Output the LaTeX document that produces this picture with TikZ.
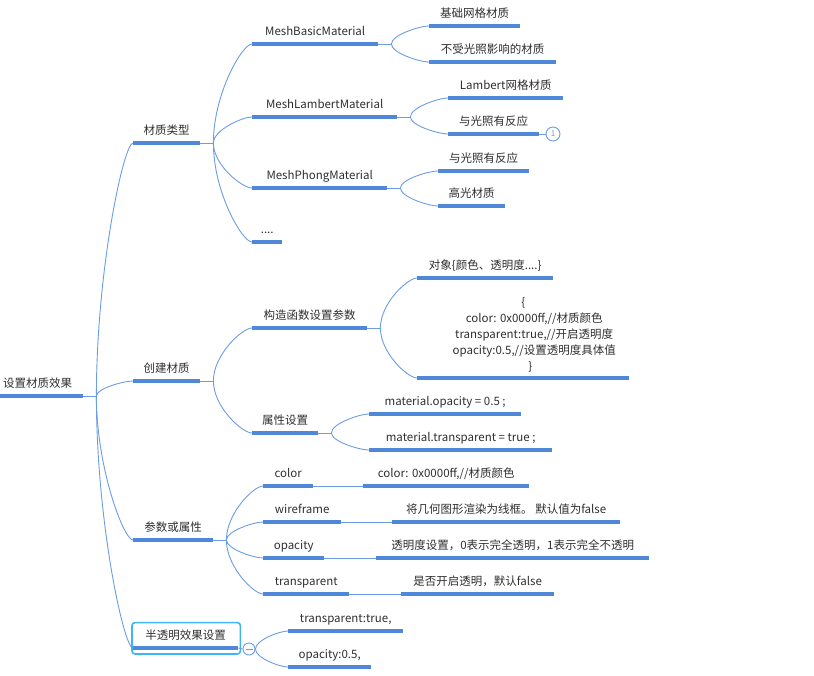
\documentclass[tikz,border=0pt]{standalone}
\usepackage{fontspec}
\setmainfont{Noto Sans CJK SC}
\usetikzlibrary{calc}
\definecolor{barblue}{HTML}{4F88D8}
\definecolor{linkblue}{HTML}{6A9DE3}
\definecolor{selcyan}{HTML}{3DB5F5}
\definecolor{txt}{HTML}{2E2E2E}

\begin{document}
\begin{tikzpicture}[
        x=1pt, y=-1pt,
        topic/.style={anchor=south west, inner sep=0pt, minimum height=23pt, text height=9pt, text depth=2.5pt, text=txt, font=\fontsize{11.5}{14}\selectfont},
        note/.style={anchor=south west, inner sep=0pt, align=center, text=txt, font=\fontsize{11.5}{16}\selectfont},
        bar/.style={draw=barblue, line width=3.2pt},
        link/.style={draw=linkblue, line width=0.9pt},
        branch/.style={to path={.. controls ($(\tikztostart)!0.5!(\tikztostart|-\tikztotarget)$) and ($(\tikztotarget)!0.25!(\tikztostart|-\tikztotarget)$) .. (\tikztotarget)}},
        numtag/.style={circle, draw=linkblue, fill=white, line width=0.9pt, inner sep=0pt, minimum size=14pt, text=linkblue, font=\fontsize{8}{8}\selectfont},
        fold/.style={circle, draw=linkblue, fill=white, line width=0.9pt, inner sep=0pt, minimum size=12pt},
        selbox/.style={draw=selcyan, line width=1.6pt, rounded corners=3pt}
    ]
        \path[use as bounding box] (0,0) rectangle (814,675);

        \node[topic, minimum width=91] (root) at (-8,396) {设置材质效果};

        \node[topic, minimum width=67] (type) at (133,143) {材质类型};
        \node[topic, minimum width=67] (create) at (133,381) {创建材质};
        \node[topic, minimum width=80] (param) at (133,540) {参数或属性};
        \node[topic, minimum width=105] (alpha) at (133,648) {半透明效果设置};

        \node[topic, minimum width=126] (basic) at (252,44) {MeshBasicMaterial};
        \node[topic, minimum width=145] (lambert) at (252,117) {MeshLambertMaterial};
        \node[topic, minimum width=135] (phong) at (252,188) {MeshPhongMaterial};
        \node[topic, minimum width=30] (more) at (252,242) {....};

        \node[topic, minimum width=91] (basic1) at (429,26) {基础网格材质};
        \node[topic, minimum width=127] (basic2) at (429,62) {不受光照影响的材质};
        \node[topic, minimum width=115] (lambert1) at (448,98) {Lambert网格材质};
        \node[topic, minimum width=91] (lambert2) at (448,134) {与光照有反应};
        \node[topic, minimum width=91] (phong1) at (438,171) {与光照有反应};
        \node[topic, minimum width=67] (phong2) at (438,206) {高光材质};

        \node[topic, minimum width=115] (ctor) at (252,328) {构造函数设置参数};
        \node[topic, minimum width=66] (prop) at (252,433) {属性设置};
        \node[topic, minimum width=136] (ctor1) at (417,278) {对象\{颜色、透明度....\}};
        \node[note, minimum width=212, minimum height=86] (ctor2) at (417,378) {\{\\\hspace*{22pt}color: 0x0000ff,//材质颜色\\\hspace*{22pt}transparent:true,//开启透明度\\\hspace*{22pt}opacity:0.5,//设置透明度具体值\\\hspace*{14pt}\}};
        \node[topic, minimum width=152] (prop1) at (369,414) {material.opacity = 0.5 ;};
        \node[topic, minimum width=183] (prop2) at (369,450) {material.transparent = true ;};

        \node[topic, minimum width=50] (pcolor) at (263,486) {color};
        \node[topic, minimum width=78] (pwire) at (263,522) {wireframe};
        \node[topic, minimum width=61] (popac) at (263,558) {opacity};
        \node[topic, minimum width=86] (ptrans) at (263,594) {transparent};
        \node[topic, minimum width=166] (pcolor1) at (363,486) {color: 0x0000ff,//材质颜色};
        \node[topic, minimum width=228] (pwire1) at (392,522) {将几何图形渲染为线框。 默认值为false};
        \node[topic, minimum width=273] (popac1) at (376,558) {透明度设置，0表示完全透明，1表示完全不透明};
        \node[topic, minimum width=153] (ptrans1) at (401,594) {是否开启透明，默认false};

        \node[topic, minimum width=115] (alpha1) at (288,631) {transparent:true,};
        \node[topic, minimum width=83] (alpha2) at (288,667) {opacity:0.5,};

        \draw[selbox] ([xshift=-1pt,yshift=-6pt]alpha.south west) rectangle ([xshift=2pt,yshift=2pt]alpha.north east);

        \foreach \n in {root,type,create,param,alpha,basic,lambert,phong,more,basic1,basic2,lambert1,lambert2,phong1,phong2,ctor,prop,ctor1,ctor2,prop1,prop2,pcolor,pwire,popac,ptrans,pcolor1,pwire1,popac1,ptrans1,alpha1,alpha2}
            \draw[bar] (\n.south west) -- (\n.south east);

        \foreach \n in {root,type,create,param,basic,lambert,phong,ctor,prop}
            \coordinate (\n-b) at ([xshift=13pt]\n.south east);

        \draw[link] (root.south east) -- (root-b);
        \foreach \k in {type,create,param,alpha}
            \draw[link] (root-b) to[branch] (\k.south west);

        \draw[link] (type.south east) -- (type-b);
        \foreach \k in {basic,lambert,phong,more}
            \draw[link] (type-b) to[branch] (\k.south west);

        \draw[link] (basic.south east) -- (basic-b);
        \draw[link] (basic-b) to[branch] (basic1.south west);
        \draw[link] (basic-b) to[branch] (basic2.south west);
        \draw[link] (lambert.south east) -- (lambert-b);
        \draw[link] (lambert-b) to[branch] (lambert1.south west);
        \draw[link] (lambert-b) to[branch] (lambert2.south west);
        \draw[link] (phong.south east) -- (phong-b);
        \draw[link] (phong-b) to[branch] (phong1.south west);
        \draw[link] (phong-b) to[branch] (phong2.south west);

        \node[numtag] (tag) at (553,134) {1};
        \draw[link] (lambert2.south east) -- (tag);

        \draw[link] (create.south east) -- (create-b);
        \draw[link] (create-b) to[branch] (ctor.south west);
        \draw[link] (create-b) to[branch] (prop.south west);
        \draw[link] (ctor.south east) -- (ctor-b);
        \draw[link] (ctor-b) to[branch] (ctor1.south west);
        \draw[link] (ctor-b) to[branch] (ctor2.south west);
        \draw[link] (prop.south east) -- (prop-b);
        \draw[link] (prop-b) to[branch] (prop1.south west);
        \draw[link] (prop-b) to[branch] (prop2.south west);

        \draw[link] (param.south east) -- (param-b);
        \foreach \k in {pcolor,pwire,popac,ptrans}
            \draw[link] (param-b) to[branch] (\k.south west);
        \draw[link] (pcolor.south east) -- (pcolor1.south west);
        \draw[link] (pwire.south east) -- (pwire1.south west);
        \draw[link] (popac.south east) -- (popac1.south west);
        \draw[link] (ptrans.south east) -- (ptrans1.south west);

        \node[fold] (fold) at (249,649) {};
        \draw[link] (alpha.south east) -- (fold.west);
        \draw[link] ([xshift=-3.5pt]fold.center) -- ([xshift=3.5pt]fold.center);
        \draw[link] (fold.east) to[branch] (alpha1.south west);
        \draw[link] (fold.east) to[branch] (alpha2.south west);
    \end{tikzpicture}
\end{document}
